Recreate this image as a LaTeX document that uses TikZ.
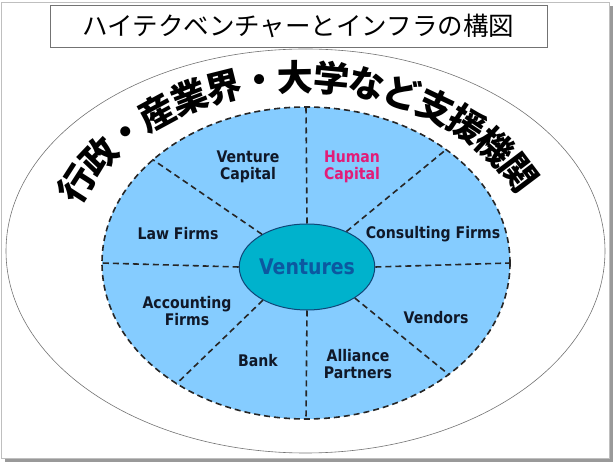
\documentclass[tikz,border=0pt]{standalone}
\usepackage{fontspec}
\newfontfamily\jpfont{Noto Sans CJK JP}
\newfontfamily\labelfont[FakeStretch=0.88]{DejaVu Sans}
\usetikzlibrary{shapes.geometric,decorations.text}
\definecolor{poolblue}{RGB}{133,204,255}
\definecolor{hubteal}{RGB}{0,178,204}
\definecolor{hubline}{RGB}{16,70,120}
\definecolor{hubtext}{RGB}{12,88,160}
\definecolor{labelink}{RGB}{16,24,40}
\definecolor{humanpink}{RGB}{226,28,120}

\begin{document}
\begin{tikzpicture}[
    x=1pt, y=1pt,
    tag/.style={font=\labelfont\bfseries\fontsize{16}{17.5}\selectfont,
                text=labelink, align=center, inner sep=0pt},
    spoke/.style={draw=black!85, line width=1.6pt, dash pattern=on 6pt off 4pt},
  ]
  \useasboundingbox (0,0) rectangle (615,465);
  % page frame with its shadow
  \fill[black!40] (609.5,459) rectangle (613,2.5);
  \fill[black!40] (5,6.5) rectangle (613,2.5);
  \draw[black!25, line width=0.8pt] (1.5,463) rectangle (609,6.5);

  \node[rectangle, draw=black!55, fill=white, line width=0.8pt,
        minimum width=497pt, minimum height=42pt,
        font=\jpfont\fontsize{25.5}{25.5}\selectfont] (title) at (298.5,439)
        {ハイテクベンチャーとインフラの構図};

  \node[ellipse, draw=black!55, line width=0.6pt, inner sep=0pt,
        minimum width=599pt, minimum height=404pt] (orbit) at (305.5,214) {};
  \node[ellipse, fill=poolblue, draw=black!85, line width=1.6pt,
        dash pattern=on 6pt off 4pt, inner sep=0pt,
        minimum width=408pt, minimum height=312pt] (pool) at (306,202) {};
  \node[ellipse, fill=hubteal, draw=hubline, line width=1pt, inner sep=0pt,
        minimum width=118pt, minimum height=86pt, text=hubtext,
        font=\labelfont\bfseries\fontsize{21.5}{21.5}\selectfont] (hub) at (307,198) {Ventures};

  % dashed spokes between the hub and the rim
  \draw[spoke] (hub.north) -- (pool.north);
  \draw[spoke] (hub.south) -- (pool.south);
  \draw[spoke] (hub.west) -- (pool.west);
  \draw[spoke] (hub.east) -- (pool.east);
  \draw[spoke] (hub.144) -- (pool.146);
  \draw[spoke] (hub.42) -- (pool.39);
  \draw[spoke] (hub.-33) -- (pool.-38);
  \draw[spoke] (hub.217) -- (pool.223);

  \node[tag] (vc) at (248,298) {Venture\\Capital};
  \node[tag, text=humanpink] (hc) at (352,298) {Human\\Capital};
  \node[tag] (law) at (178,231) {Law Firms};
  \node[tag] (cons) at (433,231) {Consulting Firms};
  \node[tag] (acc) at (187,154) {Accounting\\Firms};
  \node[tag] (vend) at (436,147) {Vendors};
  \node[tag] (bank) at (258,104) {Bank};
  \node[tag] (ally) at (358,101) {Alliance\\Partners};

  % arched band label
  \path[decorate, decoration={text along path, text align=center, raise=-13pt,
        text={|\jpfont\bfseries\fontsize{36}{36}\selectfont|行政・産業界・大学など支援機関}}]
    (302,197) ++(167:250 and 190)
    arc[start angle=167, end angle=17, x radius=250, y radius=190];
\end{tikzpicture}
\end{document}
